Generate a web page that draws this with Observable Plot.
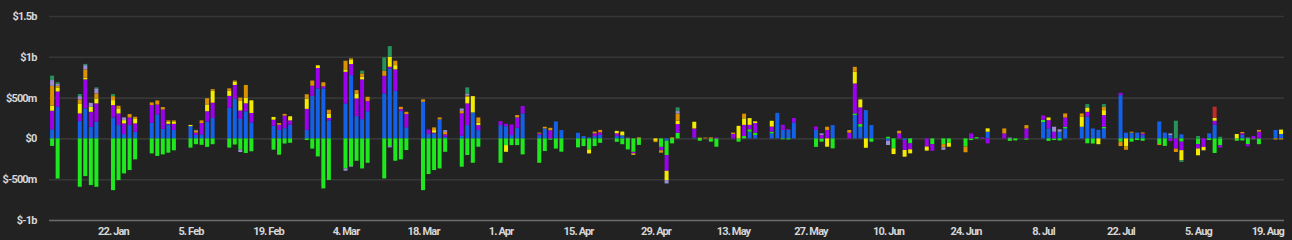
<!DOCTYPE html>
<html><head><meta charset="utf-8">
<script src="https://cdn.jsdelivr.net/npm/d3@7"></script>
<script src="https://cdn.jsdelivr.net/npm/@observablehq/plot@0.6"></script>
<style>
html,body{margin:0;padding:0;background:#222222;}
#chart{width:1292px;height:240px;overflow:hidden;}
#chart svg text{letter-spacing:-0.85px;}
</style></head><body><div id="chart"></div>
<script>
// trading days
const dates = [
"2024-01-11","2024-01-12","2024-01-16","2024-01-17","2024-01-18","2024-01-19","2024-01-22","2024-01-23","2024-01-24","2024-01-25","2024-01-26","2024-01-29","2024-01-30","2024-01-31",
"2024-02-01","2024-02-02","2024-02-05","2024-02-06","2024-02-07","2024-02-08","2024-02-09","2024-02-12","2024-02-13","2024-02-14","2024-02-15","2024-02-16","2024-02-20","2024-02-21","2024-02-22","2024-02-23","2024-02-26","2024-02-27","2024-02-28","2024-02-29",
"2024-03-01","2024-03-04","2024-03-05","2024-03-06","2024-03-07","2024-03-08","2024-03-11","2024-03-12","2024-03-13","2024-03-14","2024-03-15","2024-03-18","2024-03-19","2024-03-20","2024-03-21","2024-03-22","2024-03-25","2024-03-26","2024-03-27","2024-03-28",
"2024-04-01","2024-04-02","2024-04-03","2024-04-04","2024-04-05","2024-04-08","2024-04-09","2024-04-10","2024-04-11","2024-04-12","2024-04-15","2024-04-16","2024-04-17","2024-04-18","2024-04-19","2024-04-22","2024-04-23","2024-04-24","2024-04-25","2024-04-26","2024-04-29","2024-04-30",
"2024-05-01","2024-05-02","2024-05-03","2024-05-06","2024-05-07","2024-05-08","2024-05-09","2024-05-10","2024-05-13","2024-05-14","2024-05-15","2024-05-16","2024-05-17","2024-05-20","2024-05-21","2024-05-22","2024-05-23","2024-05-24","2024-05-28","2024-05-29","2024-05-30","2024-05-31",
"2024-06-03","2024-06-04","2024-06-05","2024-06-06","2024-06-07","2024-06-10","2024-06-11","2024-06-12","2024-06-13","2024-06-14","2024-06-17","2024-06-18","2024-06-20","2024-06-21","2024-06-24","2024-06-25","2024-06-26","2024-06-27","2024-06-28",
"2024-07-01","2024-07-02","2024-07-03","2024-07-05","2024-07-08","2024-07-09","2024-07-10","2024-07-11","2024-07-12","2024-07-15","2024-07-16","2024-07-17","2024-07-18","2024-07-19","2024-07-22","2024-07-23","2024-07-24","2024-07-25","2024-07-26","2024-07-29","2024-07-30","2024-07-31",
"2024-08-01","2024-08-02","2024-08-05","2024-08-06","2024-08-07","2024-08-08","2024-08-09","2024-08-12","2024-08-13","2024-08-14","2024-08-15","2024-08-16","2024-08-19","2024-08-20"
];

// daily net flows, $m
const IBIT = [
112,388,212,368,142,204,257,163,53,163,81,191,295,117,
167,104,150,42,50,208,250,375,488,238,333,196,154,104,125,167,104,521,613,613,
221,429,776,273,236,334,551,858,583,335,135,449,53,61,233,20,35,163,318,102,
163,150,41,130,307,41,122,0,208,102,69,29,12,29,42,29,38,0,0,0,0,0,
-29,0,0,12,0,0,0,0,0,0,0,83,42,62,313,104,104,196,104,0,0,163,
0,286,143,347,163,-28,0,0,-20,0,0,0,0,0,0,0,0,0,82,
0,0,0,0,200,122,0,82,122,143,265,122,104,122,530,70,70,71,41,208,71,41,
0,50,0,0,63,167,0,0,42,0,0,0,104,54
];
const GBTC = [
-92,-492,-593,-462,-572,-593,-634,-511,-429,-388,-257,-184,-215,-196,
-175,-146,-113,-71,-79,-104,-71,-113,-75,-137,-179,-158,-138,-200,-63,-54,-20,-125,-221,-613,
-509,-368,-340,-274,-368,-299,-490,-94,-274,-257,-143,-634,-437,-388,-368,-164,-347,-204,-299,-102,
-299,-82,-82,-82,-196,-299,-155,-15,-125,-163,-110,-94,-135,-94,-54,-42,-71,-135,-165,-80,0,-104,
-176,-61,69,0,-29,0,-40,-102,0,-40,29,29,29,21,0,-10,-12,0,-104,-40,0,-122,
0,20,33,0,-41,20,-122,0,0,-61,0,-70,-70,-53,-100,-20,15,0,0,
0,-30,-25,-15,29,-30,-20,-25,20,0,-60,-63,0,20,-41,0,-40,-20,-29,-70,-92,0,
0,-40,-70,0,-20,-179,-83,-29,-25,-71,-10,-71,0,0
];
const FBTC = [
227,187,94,355,184,225,151,143,131,94,103,217,120,237,
12,75,0,29,138,125,188,146,167,104,97,116,75,63,154,54,258,125,250,25,
30,387,135,217,487,123,216,20,263,24,163,0,57,10,0,30,272,266,0,61,
49,29,130,127,90,20,0,100,0,0,0,0,0,33,33,33,0,0,-20,0,0,-42,
-192,0,106,110,0,0,0,12,54,0,137,54,117,62,0,63,10,54,42,42,102,0,
70,367,204,0,0,0,0,61,-122,-73,-100,-82,0,0,0,61,0,12,-61,
61,0,0,122,53,102,82,0,115,0,61,0,0,143,29,0,0,0,20,0,0,-33,
-125,-104,-54,-104,0,50,-29,0,21,-25,29,83,0,0
];
const ARKB = [
63,50,123,20,61,61,61,62,40,0,61,0,0,0,
29,29,15,0,0,84,146,63,42,117,71,155,34,0,0,50,125,0,33,0,
50,30,57,61,32,0,0,122,52,0,0,0,0,31,0,0,0,81,200,30,
0,-82,0,0,0,0,0,0,0,0,0,0,-49,0,0,30,46,0,-15,10,-30,0,
-114,10,41,82,8,0,0,0,0,154,80,83,21,71,0,0,0,0,0,0,-102,0,
0,143,98,-115,0,0,-70,0,-82,-49,-50,0,0,-49,0,0,0,0,41,
0,0,0,0,0,33,0,0,0,122,53,0,-71,61,0,-100,0,0,0,0,0,0,
0,-125,-83,-42,0,33,0,54,0,0,0,0,0,54
];
const BITB = [
242,20,49,103,0,61,49,32,0,41,20,33,50,30,
13,13,0,25,33,75,20,29,12,41,154,0,0,21,21,0,54,63,0,50,
50,106,13,41,42,53,61,0,53,28,28,29,0,33,24,30,30,15,0,64,
0,0,0,29,0,10,21,30,0,0,0,0,0,21,29,0,0,0,0,0,-15,-29,
0,0,90,0,0,10,12,0,17,0,57,0,0,0,0,0,0,0,0,0,41,0,
33,61,0,0,0,0,0,33,0,0,0,0,-40,0,-70,0,0,0,0,
61,0,0,41,0,0,0,0,49,41,0,0,0,41,-53,-40,12,0,12,-12,0,0,
-42,0,0,0,0,0,0,0,16,0,0,21,-13,-13
];
const EZBC = [
71,25,40,52,49,62,0,0,33,0,0,0,0,0,
0,0,0,8,0,0,0,0,0,-30,0,0,0,0,0,0,0,0,0,0,
0,-28,-8,0,0,0,0,-16,0,0,0,0,0,0,0,22,30,26,0,0,
0,0,0,0,0,0,0,0,0,0,0,0,0,0,0,0,0,8,0,0,0,0,
-41,0,29,0,0,0,0,0,0,0,0,0,0,0,0,0,0,0,0,20,0,0,
0,0,0,0,0,-53,0,0,0,0,0,0,-30,0,0,0,0,0,0,
0,10,0,0,0,0,61,29,0,0,0,0,0,0,0,0,0,0,0,0,0,20,
0,0,0,0,0,0,0,0,0,10,0,0,0,0
];
const HODL = [
54,18,25,15,0,12,25,0,0,0,0,0,0,0,
0,0,0,0,0,0,0,0,0,0,0,0,0,0,0,0,0,0,0,0,
0,0,0,0,33,0,165,131,0,0,0,0,0,0,0,0,0,74,0,0,
0,0,0,0,0,0,0,0,0,0,0,0,0,0,0,0,0,0,0,0,0,0,
0,0,45,0,0,0,0,0,0,0,0,0,0,0,0,0,0,0,0,0,0,0,
0,0,0,0,0,0,0,0,0,0,0,0,0,0,0,0,0,0,0,
0,0,0,0,0,0,0,0,0,0,41,0,0,33,0,0,0,0,0,0,0,0,
217,-20,29,0,0,0,20,0,0,0,0,0,0,0
];
const BTC = [
0,0,0,0,0,0,0,0,0,0,0,0,0,0,
0,0,0,0,0,0,0,0,0,0,0,0,0,0,0,0,0,0,0,0,
0,0,0,0,0,0,0,0,0,0,0,0,0,0,0,0,0,0,0,0,
0,0,0,0,0,0,0,0,0,0,0,0,0,0,0,0,0,0,0,0,0,0,
0,0,0,0,0,0,0,0,0,0,0,0,0,0,0,0,0,0,0,0,0,0,
0,0,0,0,0,0,0,0,0,0,0,0,0,0,0,0,0,0,0,
0,0,0,0,0,0,0,0,0,0,0,0,0,0,0,0,0,0,0,0,0,0,
0,0,0,0,0,138,0,0,0,0,0,0,0,0
];

const seriesNames = ["IBIT","GBTC","FBTC","ARKB","BITB","EZBC","HODL","BTC"];
const seriesValues = [IBIT, GBTC, FBTC, ARKB, BITB, EZBC, HODL, BTC];
const seriesColors = ["#1460e6","#1fe81f","#9c00ee","#f4ec00","#dc9200","#9a8fd0","#27925a","#c22a2a"];

const xTicks = ["2024-01-22","2024-02-05","2024-02-19","2024-03-04","2024-03-18","2024-04-01","2024-04-15","2024-04-29","2024-05-13","2024-05-27","2024-06-10","2024-06-24","2024-07-08","2024-07-22","2024-08-05","2024-08-19"];
const yTicks = [-1000, -500, 0, 500, 1000, 1500];
const yTickLabels = ["$-1b","$-500m","$0","$500m","$1b","$1.5b"];

const parse = d3.utcParse("%Y-%m-%d");
const D = dates.map(parse);
const half = 0.36 * 864e5;
const X1 = D.map(d => new Date(+d - half));
const X2 = D.map(d => new Date(+d + half));
const rows = [];
D.forEach((d, i) => seriesNames.forEach((name, k) => {
  const v = seriesValues[k][i];
  if (v) rows.push({x1: X1[i], x2: X2[i], name, v});
}));
const yLab = new Map(yTicks.map((t, i) => [t, yTickLabels[i]]));
const xTickDates = xTicks.map(parse);
const fmt = d3.utcFormat("%-d. %b");

const chart = Plot.plot({
  width: 1292, height: 240,
  marginLeft: 49, marginRight: 8, marginTop: 16, marginBottom: 20,
  style: {background: "#222222", color: "#d6d6d6", fontFamily: "Roboto, sans-serif", fontSize: "11px", fontWeight: 700},
  x: {type: "utc", label: null, domain: [new Date(Date.UTC(2024,0,10,10,35)), new Date(Date.UTC(2024,7,20,12,45))]},
  y: {label: null, domain: [-1000, 1500]},
  color: {domain: seriesNames, range: seriesColors},
  marks: [
    Plot.gridY(yTicks, {stroke: "#373737", strokeOpacity: 1, strokeWidth: 1.6}),
    Plot.ruleY([-1000], {stroke: "#6a6a6a", strokeWidth: 1.6}),
    Plot.rectY(rows, Plot.stackY({x1: "x1", x2: "x2", y: "v", fill: "name"})),
    Plot.axisY(yTicks, {tickSize: 0, tickPadding: 13, tickFormat: d => yLab.get(d), fill: "#d6d6d6", label: null}),
    Plot.axisX(xTickDates.slice(0, -1), {tickSize: 0, tickPadding: 7, tickFormat: fmt, fill: "#d6d6d6", label: null}),
    Plot.axisX(xTickDates.slice(-1), {tickSize: 0, tickPadding: 7, tickFormat: fmt, fill: "#d6d6d6", label: null, textAnchor: "end", dx: 8})
  ]
});
document.getElementById("chart").appendChild(chart);
</script>
</body></html>
